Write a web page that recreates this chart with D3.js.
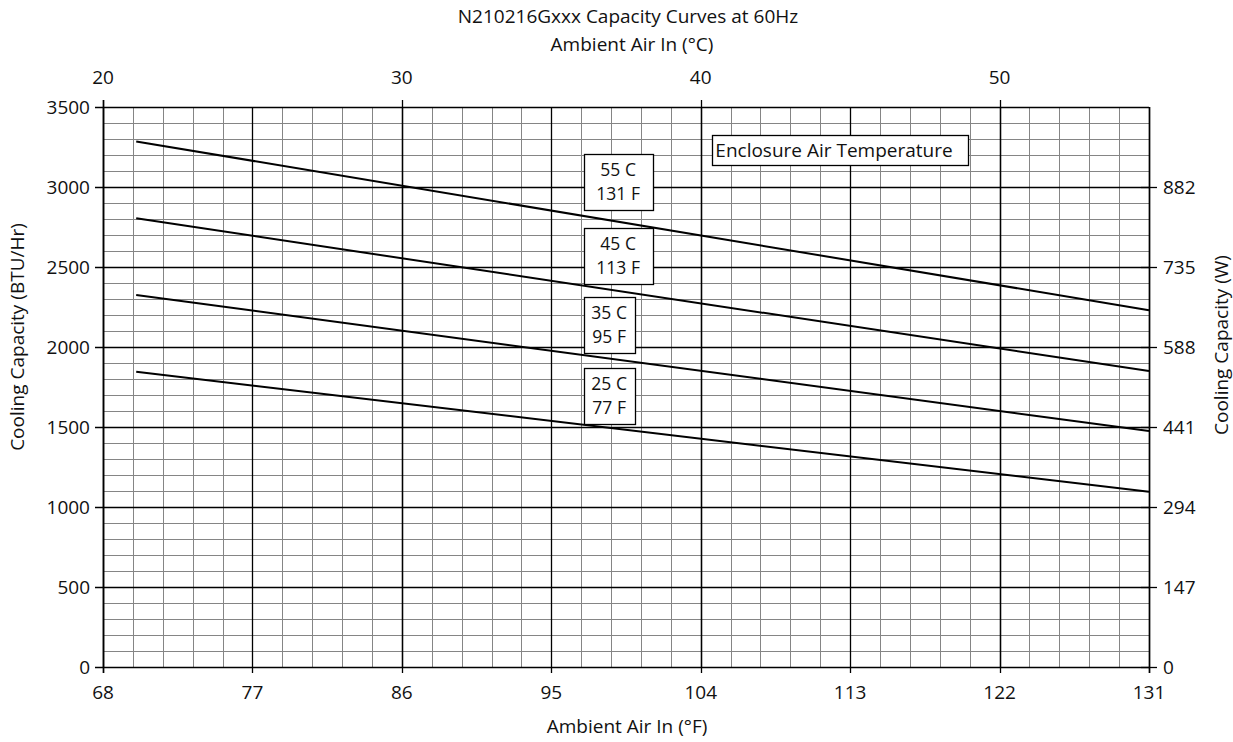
<!DOCTYPE html>
<html><head><meta charset="utf-8">
<script src="https://cdn.jsdelivr.net/npm/d3@7"></script>
<style>
body{margin:0;background:#fff;}
text{font-family:"Open Sans",sans-serif;font-size:19px;fill:#111;}
text.bx{font-size:17.5px;}
</style></head>
<body><svg id="c" width="1233" height="742"></svg>
<script>
// ---- data ----
const ambientF = [70, 131];
const curve55C = [3285, 2230];
const curve45C = [2805, 1850];
const curve35C = [2325, 1475];
const curve25C = [1845, 1095];
const curveLabels = [["55 C","131 F"],["45 C","113 F"],["35 C","95 F"],["25 C","77 F"]];
const bottomTicksF = [68,77,86,95,104,113,122,131];
const topTicksC = [20,30,40,50];
const leftTicks = [0,500,1000,1500,2000,2500,3000,3500];
const rightTickLabels = ["0","147","294","441","588","735","882"];

const svg = d3.select("#c");
const x = d3.scaleLinear().domain([68,131]).range([103,1149]);
const y = d3.scaleLinear().domain([0,3500]).range([667,107]);
const xc = d3.scaleLinear().domain([20,55]).range([x(68),x(131)]);
const px = v => Math.round(v)+0.5;

const g = svg.append("g");
// minor vertical grid every 1 C
for(let c=21;c<55;c++){
  g.append("line").attr("x1",px(xc(c))).attr("x2",px(xc(c))).attr("y1",y(3500)).attr("y2",y(0))
   .attr("stroke","#858585").attr("stroke-width",1);
}
// minor horizontal every 100
for(let v=100;v<3500;v+=100){
  if(v%500===0) continue;
  g.append("line").attr("x1",x(68)).attr("x2",x(131)).attr("y1",px(y(v))).attr("y2",px(y(v)))
   .attr("stroke","#858585").attr("stroke-width",1);
}
// major horizontal
leftTicks.forEach(v=>{
  g.append("line").attr("x1",x(68)-8).attr("x2",x(131)).attr("y1",px(y(v))).attr("y2",px(y(v)))
   .attr("stroke","#000").attr("stroke-width",1.3);
});
// major vertical (bottom F ticks)
bottomTicksF.forEach(f=>{
  g.append("line").attr("x1",px(x(f))).attr("x2",px(x(f))).attr("y1",y(3500)).attr("y2",y(0)+6)
   .attr("stroke","#000").attr("stroke-width",1.3);
});
// top C ticks
topTicksC.forEach(c=>{
  g.append("line").attr("x1",px(xc(c))).attr("x2",px(xc(c))).attr("y1",y(3500)-7).attr("y2",y(3500))
   .attr("stroke","#000").attr("stroke-width",1.3);
  g.append("line").attr("x1",px(xc(c))).attr("x2",px(xc(c))).attr("y1",y(3500)).attr("y2",y(0))
   .attr("stroke","#000").attr("stroke-width",1.3);
});
// frame
g.append("line").attr("x1",px(x(68))).attr("x2",px(x(68))).attr("y1",y(3500)-7).attr("y2",y(0)+6).attr("stroke","#000").attr("stroke-width",1.5);
g.append("line").attr("x1",px(x(131))).attr("x2",px(x(131))).attr("y1",y(3500)).attr("y2",y(0)+6).attr("stroke","#000").attr("stroke-width",1.5);
// right ticks
rightTickLabels.forEach((t,i)=>{
  const v = leftTicks[i];
  g.append("line").attr("x1",x(131)-8).attr("x2",x(131)+8).attr("y1",px(y(v))).attr("y2",px(y(v)))
   .attr("stroke","#000").attr("stroke-width",1.3);
  g.append("text").attr("x",x(131)+14).attr("y",y(v)).attr("dy","0.35em").text(t);
});
// left tick labels
leftTicks.forEach(v=>{
  g.append("text").attr("x",x(68)-13).attr("y",y(v)).attr("dy","0.35em").attr("text-anchor","end").text(v);
});
// bottom labels
bottomTicksF.forEach(f=>{
  g.append("text").attr("x",x(f)).attr("y",699).attr("text-anchor","middle").text(f);
});
topTicksC.forEach(c=>{
  g.append("text").attr("x",xc(c)).attr("y",84).attr("text-anchor","middle").text(c);
});
// titles
g.append("text").attr("x",628).attr("y",23).attr("text-anchor","middle").text("N210216Gxxx Capacity Curves at 60Hz");
g.append("text").attr("x",632).attr("y",51).attr("text-anchor","middle").text("Ambient Air In (°C)");
g.append("text").attr("x",627).attr("y",733).attr("text-anchor","middle").text("Ambient Air In (°F)");
g.append("text").attr("transform","translate(24,337) rotate(-90)").attr("text-anchor","middle").text("Cooling Capacity (BTU/Hr)");
g.append("text").attr("transform","translate(1228,345) rotate(-90)").attr("text-anchor","middle").text("Cooling Capacity (W)");

// curves
const line = d3.line().x(d=>x(d[0])).y(d=>y(d[1]));
[curve55C,curve45C,curve35C,curve25C].forEach(s=>{
  g.append("path").datum(ambientF.map((f,i)=>[f,s[i]])).attr("d",line)
   .attr("fill","none").attr("stroke","#000").attr("stroke-width",2);
});

// label boxes
function box(x0,y0,w,h,lines){
  g.append("rect").attr("x",px(x0)).attr("y",px(y0)).attr("width",w).attr("height",h)
   .attr("fill","#fff").attr("stroke","#000").attr("stroke-width",1.3);
  lines.forEach((t,i)=>{
    g.append("text").attr("class","bx").attr("x",x0+w/2).attr("y",y0+h/2+(i-(lines.length-1)/2)*24).attr("dy","0.35em")
     .attr("text-anchor","middle").text(t);
  });
}
const bx = x(96.95);
box(bx,y(3206),69,56,curveLabels[0]);
box(bx,y(2743),69,56,curveLabels[1]);
box(bx,y(2312),51,56,curveLabels[2]);
box(bx,y(1868),51,56,curveLabels[3]);
// legend title box
g.append("rect").attr("x",px(x(104.7))).attr("y",px(y(3324))).attr("width",256).attr("height",30)
 .attr("fill","#fff").attr("stroke","#000").attr("stroke-width",1.3);
g.append("text").attr("x",x(104.7)+3).attr("y",y(3324)+15).attr("dy","0.35em").text("Enclosure Air Temperature");
</script></body></html>
